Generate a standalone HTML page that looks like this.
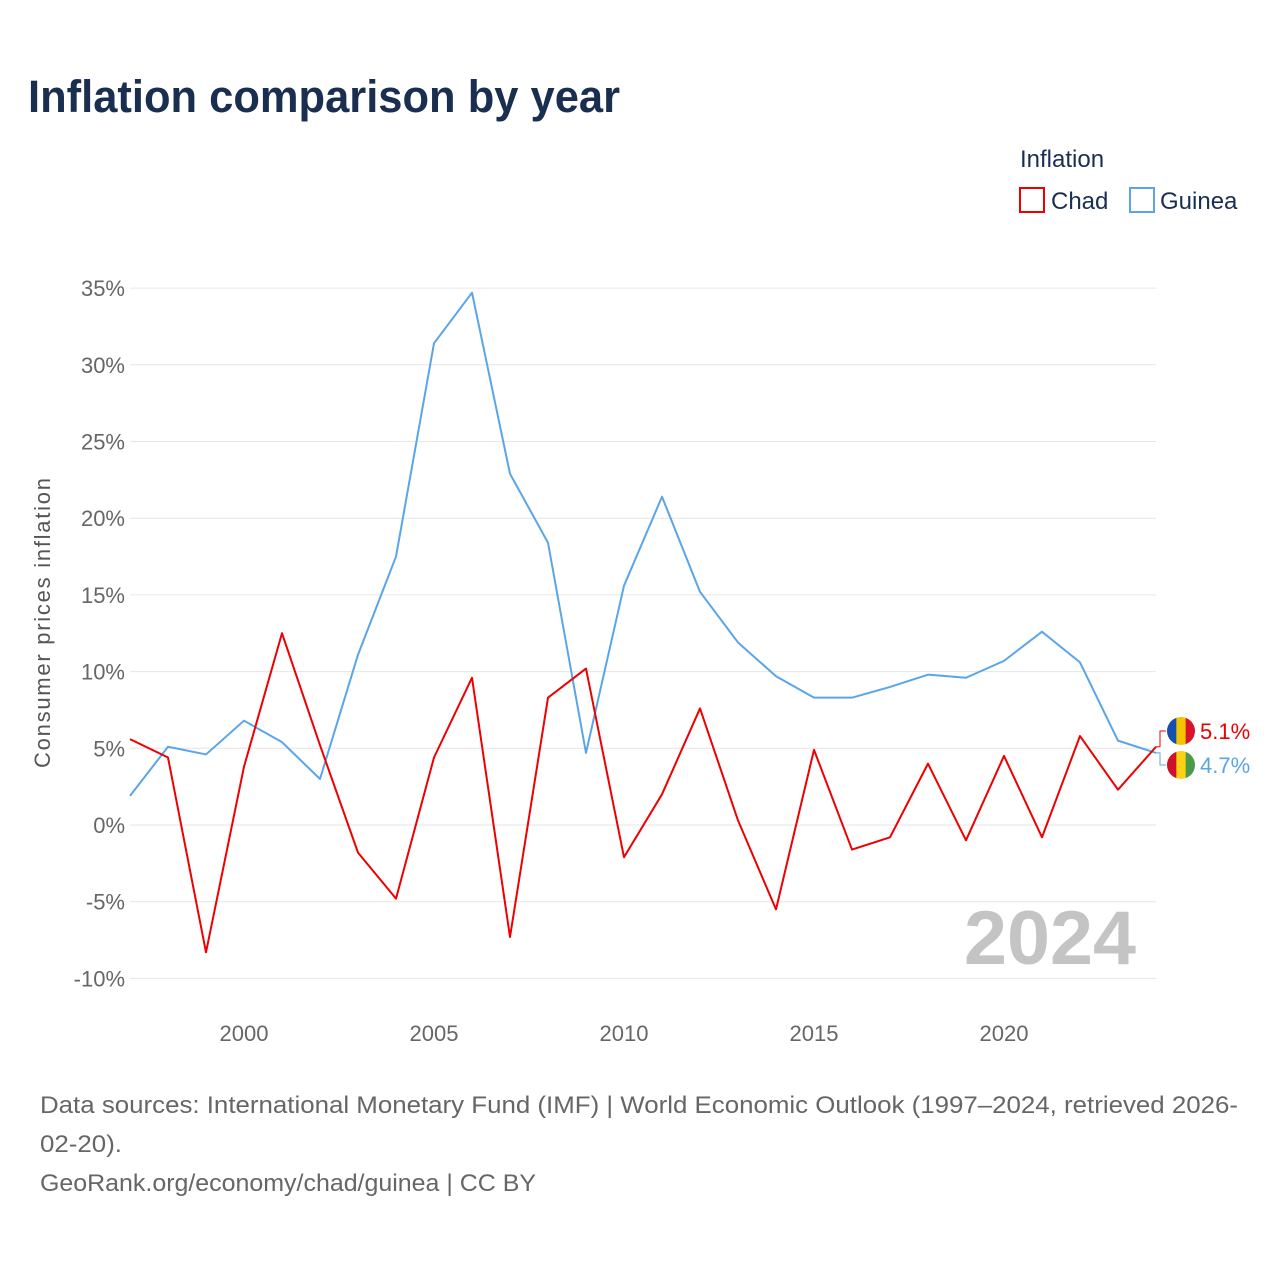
<!DOCTYPE html>
<html><head><meta charset="utf-8"><style>
body{margin:0;background:#fff;font-family:"Liberation Sans",sans-serif}
#wrap{position:relative;width:1280px;height:1280px;overflow:hidden}
</style></head><body>
<div id="wrap">
<svg id="chart" width="1280" height="1280">
<text x="28" y="112" font-size="45" font-weight="bold" fill="#1a2e50" textLength="592" lengthAdjust="spacingAndGlyphs">Inflation comparison by year</text>
<text x="1020" y="167" font-size="24" fill="#1a2e50">Inflation</text>
<g><rect x="1020" y="188" width="24" height="24" fill="none" stroke="#e00" stroke-width="2"/><text x="1051" y="209" font-size="24" fill="#1a2e50">Chad</text></g>
<g><rect x="1130" y="188" width="24" height="24" fill="none" stroke="#5aa5e8" stroke-width="2"/><text x="1160" y="209" font-size="24" fill="#1a2e50">Guinea</text></g>
<g id="grid"></g><g id="xt"></g><g id="lines"></g>
<text transform="translate(50,623) rotate(-90)" text-anchor="middle" font-size="22" fill="#555" textLength="290">Consumer prices inflation</text>
<text x="964" y="964" font-size="76" font-weight="bold" fill="#c4c4c4" textLength="172" lengthAdjust="spacingAndGlyphs">2024</text>
<text x="40" y="1113" font-size="24" fill="#666" textLength="1198" lengthAdjust="spacingAndGlyphs">Data sources: International Monetary Fund (IMF) | World Economic Outlook (1997–2024, retrieved 2026-</text>
<text x="40" y="1152" font-size="24" fill="#666" textLength="82" lengthAdjust="spacingAndGlyphs">02-20).</text>
<text x="40" y="1191" font-size="24" fill="#666" textLength="496" lengthAdjust="spacingAndGlyphs">GeoRank.org/economy/chad/guinea | CC BY</text>
</svg>
</div>
<script>
const years=[1997,1998,1999,2000,2001,2002,2003,2004,2005,2006,2007,2008,2009,2010,2011,2012,2013,2014,2015,2016,2017,2018,2019,2020,2021,2022,2023,2024];
const chad=[5.6,4.4,-8.3,3.8,12.5,5.2,-1.8,-4.8,4.4,9.6,-7.3,8.3,10.2,-2.1,2.0,7.6,0.3,-5.5,4.9,-1.6,-0.8,4.0,-1.0,4.5,-0.8,5.8,2.3,5.1];
const guinea=[1.9,5.1,4.6,6.8,5.4,3.0,11.1,17.5,31.4,34.7,22.9,18.4,4.7,15.6,21.4,15.2,11.9,9.7,8.3,8.3,9.0,9.8,9.6,10.7,12.6,10.6,5.5,4.7];
const yTicks=[-10,-5,0,5,10,15,20,25,30,35];
const xTicks=[2000,2005,2010,2015,2020];
const NS="http://www.w3.org/2000/svg";
const X=v=>130+(v-1997)*38, Y=v=>825-v*15.34;
function mk(t,a,p){const e=document.createElementNS(NS,t);for(const k in a)e.setAttribute(k,a[k]);p.appendChild(e);return e;}
const g=document.getElementById('grid');
yTicks.forEach(v=>{
 const l=mk('line',{x1:130,x2:1156,y1:Y(v),y2:Y(v),stroke:'#e6e6e6'},g);
 
 
 const t=mk('text',{x:125,y:Y(v)+8,'text-anchor':'end','font-size':22,fill:'#666'},g);
 t.textContent=v+'%';
 
 
});
const xg=document.getElementById('xt');
xTicks.forEach(v=>{
 const t=mk('text',{x:X(v),y:1041,'text-anchor':'middle','font-size':22,fill:'#666'},xg);
 t.textContent=v;
 
 
});
const lg=document.getElementById('lines');
[[guinea,'#5aa5e8','guinea-line'],[chad,'#e00','chad-line']].forEach(([d,c,n])=>{
 const p=mk('polyline',{points:d.map((v,i)=>X(years[i])+','+Y(v)).join(' '),fill:'none',stroke:c,'stroke-width':2,'stroke-linejoin':'round'},lg);
 
 
});
const lc=chad[chad.length-1], lgv=guinea[guinea.length-1];
const flags=[[lc,731,'#e00',['#1550b0','#f5c400','#d7142b'],'chad-end-label'],[lgv,765,'#5aa5e8',['#ce1126','#fcd116','#4a9a48'],'guinea-end-label']];
flags.forEach(([v,ly,c,cols,n])=>{
 const gg=mk('g',{},lg);
 
 
 mk('polyline',{points:`1156,${Y(v)} 1160,${Y(v)} 1160,${ly} 1166,${ly}`,fill:'none',stroke:c,'stroke-width':1},gg);
 const cid='c'+n;
 const cp=mk('clipPath',{id:cid},gg);mk('circle',{cx:1181,cy:ly,r:14},cp);
 cols.forEach((col,i)=>mk('rect',{x:1167+i*28/3,y:ly-14,width:28/3+0.5,height:28,fill:col,'clip-path':`url(#${cid})`},gg));
 const t=mk('text',{x:1200,y:ly+8,'font-size':22,fill:c},gg);t.textContent=v.toFixed(1)+'%';
});
</script>
</body></html>
